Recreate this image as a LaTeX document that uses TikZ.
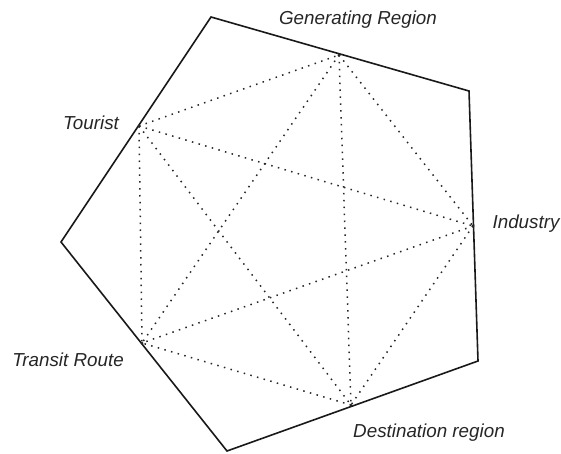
\documentclass[tikz,border=0pt]{standalone}
\usepackage{fontspec}
\setmainfont{Liberation Sans}
\begin{document}
\begin{tikzpicture}[x=1pt,y=-1pt,
  frame/.style={line width=1.6pt,line join=miter,draw=black!90},
  link/.style={line width=1.5pt,dash pattern=on 1.5pt off 5.4pt,draw=black!85},
  pt/.style={circle,fill=black!85,inner sep=0pt,minimum size=3pt},
  lbl/.style={font=\fontsize{18.8}{22}\selectfont\itshape,text=black!85,inner sep=0pt,anchor=base}]
\useasboundingbox (0,0) rectangle (561,453);
% pentagon
\coordinate (v1) at (211,17);
\coordinate (v2) at (469,91);
\coordinate (v3) at (478,361);
\coordinate (v4) at (227,451);
\coordinate (v5) at (61,242);
\draw[frame] (v1) -- (v2) -- (v3) -- (v4) -- (v5) -- cycle;
% points on edges
\node[pt] (gen) at (339,55) {};
\node[pt] (ind) at (473,226) {};
\node[pt] (des) at (351,405) {};
\node[pt] (tra) at (142,343) {};
\node[pt] (tou) at (139,126) {};
% complete graph
\foreach \a/\b in {tou/gen,tou/ind,tou/des,tou/tra,gen/ind,gen/des,gen/tra,ind/des,ind/tra,des/tra}
  \draw[link] (\a.center) -- (\b.center);
% labels
\node[lbl] (lgen) at (358,24) {Generating Region};
\node[lbl] (ltou) at (91,129) {Tourist};
\node[lbl] (lind) at (526,228) {Industry};
\node[lbl] (ltra) at (68,366) {Transit Route};
\node[lbl] (ldes) at (429,437) {Destination region};
\end{tikzpicture}
\end{document}
